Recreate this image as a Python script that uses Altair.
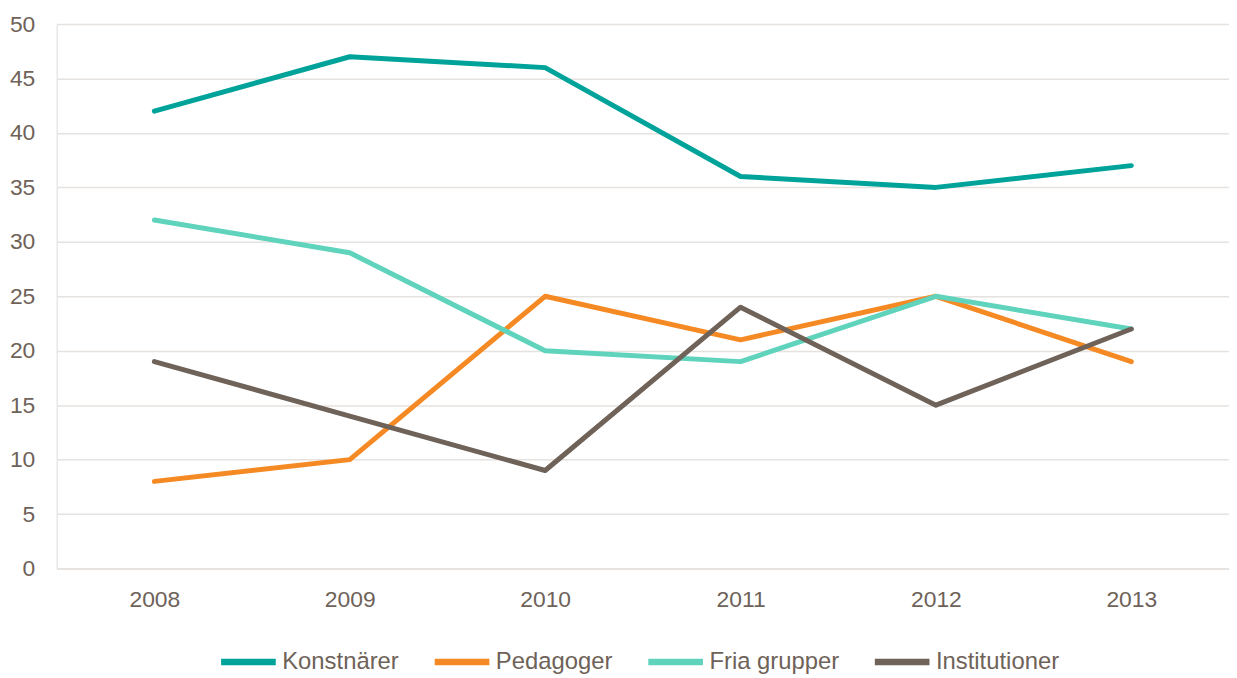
import altair as alt
import pandas as pd

years = ["2008", "2009", "2010", "2011", "2012", "2013"]
series = ["Konstnärer", "Pedagoger", "Fria grupper", "Institutioner"]
konstnarer = [42, 47, 46, 36, 35, 37]
pedagoger = [8, 10, 25, 21, 25, 19]
fria = [32, 29, 20, 19, 25, 22]
institutioner = [19, 14, 9, 24, 15, 22]
colors = ["#00A39A", "#F58A24", "#5FD3BC", "#6E6259"]

rows = []
for name, vals in zip(series, [konstnarer, pedagoger, fria, institutioner]):
    for y, v in zip(years, vals):
        rows.append({"Year": y, "Value": v, "Serie": name})
df = pd.DataFrame(rows)

text_color = "#6E6259"

x = alt.X("Year:O", title=None, sort=years,
          scale=alt.Scale(type="point", padding=0.5),
          axis=alt.Axis(labelAngle=0, labelFontSize=23, labelColor=text_color,
                        labelFont="Liberation Sans", labelPadding=20,
                        ticks=False, domain=True, domainColor="#E6E2DF",
                        domainWidth=1.5, grid=False))
y = alt.Y("Value:Q", title=None,
          scale=alt.Scale(domain=[0, 50], nice=False),
          axis=alt.Axis(values=list(range(0, 51, 5)), labelFontSize=23,
                        labelColor=text_color, labelFont="Liberation Sans",
                        labelPadding=22, ticks=False, domain=False,
                        grid=True, gridColor="#E6E2DF", gridWidth=1.5))
color = alt.Color("Serie:N", sort=series,
                  scale=alt.Scale(domain=series, range=colors),
                  legend=alt.Legend(title=None, orient="none", direction="horizontal",
                                    legendX=162, legendY=611,
                                    symbolType="stroke", symbolSize=3025,
                                    symbolStrokeWidth=6.5, labelFontSize=24,
                                    labelColor=text_color,
                                    labelFont="Liberation Sans",
                                    labelOffset=3, columnPadding=22))

layers = []
for name in series:
    layers.append(
        alt.Chart(df).transform_filter(alt.datum.Serie == name)
        .mark_line(strokeWidth=5, strokeCap="round", strokeJoin="round")
        .encode(x=x, y=y, color=color)
    )

chart = alt.layer(*layers).properties(
    width=1180, height=548,
    autosize=alt.AutoSizeParams(type="none"),
    padding={"left": 49, "top": 14, "right": 0, "bottom": 104},
).configure_view(stroke=None).configure(background="white")

chart.save("out.html", embed_options={"renderer": "svg", "actions": False})
